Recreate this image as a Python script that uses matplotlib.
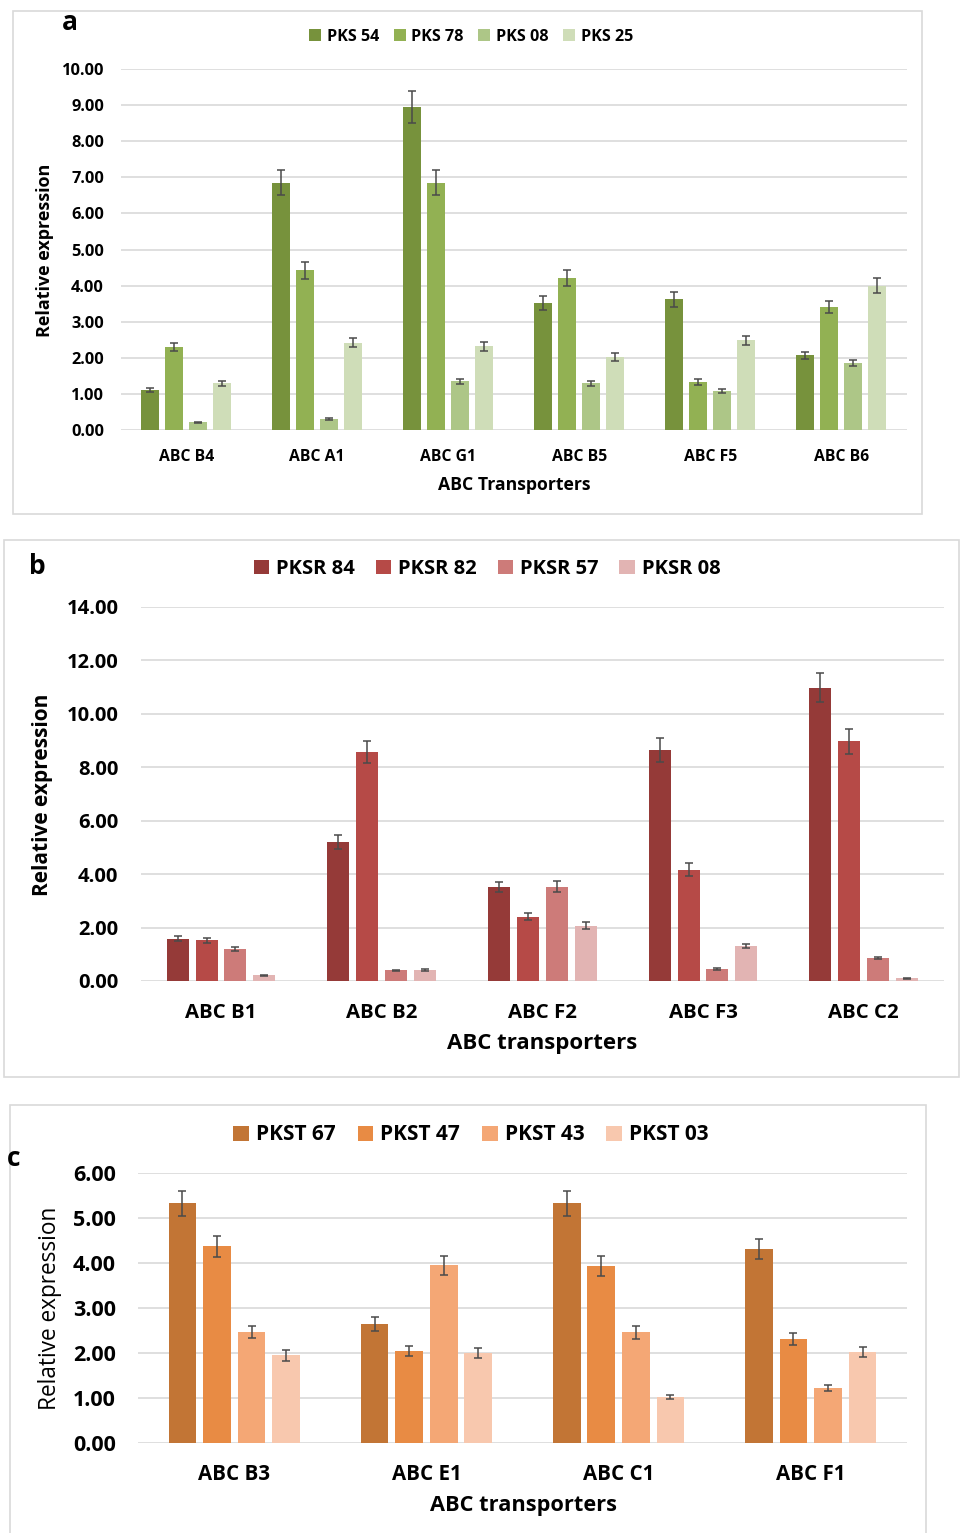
import matplotlib
matplotlib.use("Agg")
import matplotlib.pyplot as plt
from matplotlib.patches import Rectangle, Patch
import numpy as np

plt.rcParams['font.family'] = ['Open Sans', 'DejaVu Sans']
plt.rcParams['font.weight'] = 'bold'

W, H = 960, 1533

# Panel a: PKS samples
a_categories = ['ABC B4', 'ABC A1', 'ABC G1', 'ABC B5', 'ABC F5', 'ABC B6']
a_series = ['PKS 54', 'PKS 78', 'PKS 08', 'PKS 25']
a_values = [
    [1.10, 6.85, 8.95, 3.52, 3.62, 2.07],
    [2.30, 4.42, 6.85, 4.21, 1.33, 3.41],
    [0.21, 0.30, 1.35, 1.29, 1.08, 1.86],
    [1.30, 2.42, 2.32, 2.02, 2.48, 4.00],
]
a_errors = [
    [0.06, 0.35, 0.45, 0.19, 0.20, 0.10],
    [0.12, 0.24, 0.35, 0.21, 0.07, 0.17],
    [0.02, 0.02, 0.07, 0.07, 0.05, 0.09],
    [0.07, 0.13, 0.12, 0.10, 0.13, 0.20],
]
a_colors = ['#77923c', '#92b153', '#adc687', '#cfddb8']

# Panel b: PKSR samples
b_categories = ['ABC B1', 'ABC B2', 'ABC F2', 'ABC F3', 'ABC C2']
b_series = ['PKSR 84', 'PKSR 82', 'PKSR 57', 'PKSR 08']
b_values = [
    [1.58, 5.20, 3.52, 8.63, 10.97],
    [1.52, 8.56, 2.41, 4.17, 8.97],
    [1.21, 0.40, 3.53, 0.44, 0.87],
    [0.21, 0.42, 2.07, 1.32, 0.10],
]
b_errors = [
    [0.09, 0.26, 0.18, 0.45, 0.55],
    [0.09, 0.42, 0.14, 0.25, 0.47],
    [0.07, 0.02, 0.21, 0.03, 0.04],
    [0.02, 0.03, 0.13, 0.08, 0.03],
]
b_colors = ['#953a38', '#b64a47', '#cd7b79', '#e2b4b3']

# Panel c: PKST samples
c_categories = ['ABC B3', 'ABC E1', 'ABC C1', 'ABC F1']
c_series = ['PKST 67', 'PKST 47', 'PKST 43', 'PKST 03']
c_values = [
    [5.32, 2.64, 5.32, 4.31],
    [4.37, 2.04, 3.94, 2.31],
    [2.47, 3.95, 2.46, 1.22],
    [1.95, 2.00, 1.03, 2.02],
]
c_errors = [
    [0.28, 0.15, 0.28, 0.22],
    [0.23, 0.11, 0.22, 0.13],
    [0.14, 0.21, 0.14, 0.07],
    [0.12, 0.11, 0.05, 0.11],
]
c_colors = ['#c27535', '#e88b44', '#f4a775', '#f8c8ae']

fig = plt.figure(figsize=(W / 100, H / 100), dpi=100)


def fx(px):
    return px / W


def fy(py):
    return 1 - py / H


def add_border(x0, y0, x1, y1):
    fig.patches.append(Rectangle((fx(x0), fy(y1)), fx(x1) - fx(x0), fy(y0) - fy(y1),
                                 transform=fig.transFigure, fill=False,
                                 edgecolor='#d9d9d9', linewidth=1.2))


def draw_panel(box, categories, series, values, errors, colors, ymax, ystep,
               tick_fs, cat_fs, cat_pad, tick_pad, bar_width, pitch):
    left, top, right, bottom = box
    ax = fig.add_axes([fx(left), fy(bottom), fx(right) - fx(left), fy(top) - fy(bottom)])
    x = np.arange(len(categories))
    n = len(series)
    for i in range(n):
        pos = x + (i - (n - 1) / 2) * pitch
        ax.bar(pos, values[i], width=bar_width, color=colors[i], zorder=3, label=series[i])
        ax.errorbar(pos, values[i], yerr=errors[i], fmt='none', ecolor='#4a4a4a',
                    elinewidth=1.1, capsize=3, capthick=1.1, zorder=4)
    ax.set_xlim(-0.5, len(categories) - 0.5)
    ax.set_ylim(0, ymax)
    ticks = np.arange(0, ymax + 0.001, ystep)
    ax.set_yticks(ticks)
    ax.set_yticklabels([f'{v:.2f}' for v in ticks], fontsize=tick_fs, fontweight='bold')
    ax.set_xticks(x)
    ax.set_xticklabels(categories, fontsize=cat_fs, fontweight='bold')
    ax.tick_params(axis='both', length=0)
    ax.tick_params(axis='y', pad=tick_pad)
    ax.tick_params(axis='x', pad=cat_pad)
    ax.grid(axis='y', color='#d9d9d9', linewidth=1.2, zorder=0)
    for s in ax.spines.values():
        s.set_visible(False)
    ax.set_facecolor('none')
    return ax


def add_legend(series, colors, cx, cy, fs, colsp):
    handles = [Patch(facecolor=c, edgecolor='none') for c in colors]
    fig.legend(handles, series, loc='center', bbox_to_anchor=(fx(cx), fy(cy)),
               ncol=len(series), frameon=False, handlelength=0.75,
               handleheight=0.75, handletextpad=0.35, columnspacing=colsp,
               prop={'weight': 'bold', 'size': fs})


# Panel a
add_border(13, 11, 922, 514)
draw_panel((120.7, 69, 906.7, 430), a_categories, a_series, a_values, a_errors, a_colors,
           10, 1, 11.8, 11.3, 14, 12, 0.14, 0.183)
add_legend(a_series, a_colors, 471, 37, 11.6, 0.9)
fig.text(fx(70), fy(22), 'a', fontsize=19, fontweight='bold', ha='center', va='center')
fig.text(fx(45), fy(250), 'Relative expression', fontsize=13, fontweight='bold',
         rotation=90, ha='center', va='center')
fig.text(fx(514), fy(485), 'ABC Transporters', fontsize=12.7, fontweight='bold',
         ha='center', va='center')

# Panel b
add_border(4, 540, 959, 1077)
draw_panel((140.7, 606.7, 944, 981), b_categories, b_series, b_values, b_errors, b_colors,
           14, 2, 14.5, 14.7, 15.5, 16, 0.137, 0.18)
add_legend(b_series, b_colors, 487, 569, 14.5, 1.05)
fig.text(fx(37), fy(566), 'b', fontsize=19, fontweight='bold', ha='center', va='center')
fig.text(fx(43), fy(795), 'Relative expression', fontsize=15, fontweight='bold',
         rotation=90, ha='center', va='center')
fig.text(fx(542), fy(1044), 'ABC transporters', fontsize=16, fontweight='bold',
         ha='center', va='center')

# Panel c
add_border(10, 1105, 926, 1540)
draw_panel((138.3, 1172.7, 906.7, 1443.3), c_categories, c_series, c_values, c_errors, c_colors,
           6, 1, 15.5, 14.8, 15, 16, 0.144, 0.18)
add_legend(c_series, c_colors, 471, 1135, 15, 1.05)
fig.text(fx(14), fy(1158), 'c', fontsize=19, fontweight='bold', ha='center', va='center')
fig.text(fx(50), fy(1308), 'Relative expression', fontsize=16.3, fontweight='normal',
         rotation=90, ha='center', va='center')
fig.text(fx(523), fy(1506), 'ABC transporters', fontsize=15.7, fontweight='bold',
         ha='center', va='center')

fig.savefig('out.png', dpi=100)
